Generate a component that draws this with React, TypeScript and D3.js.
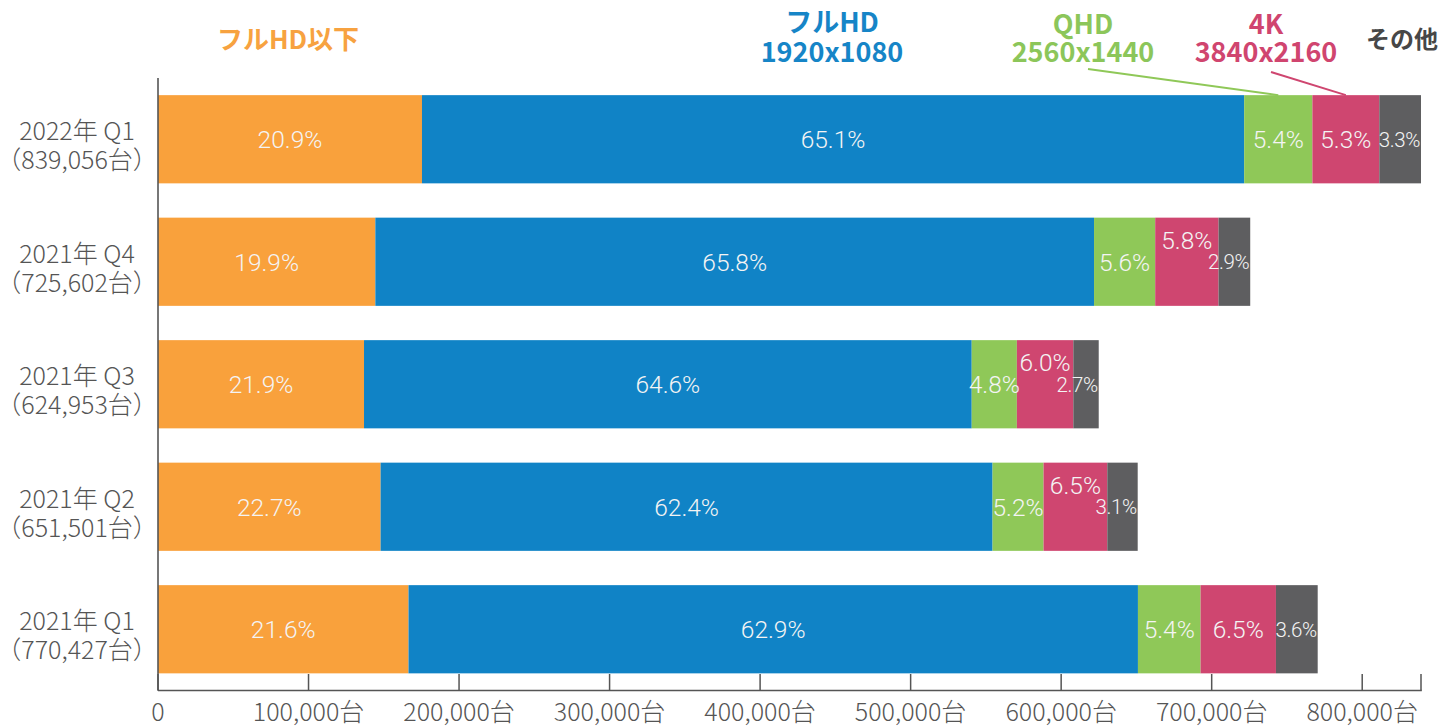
import React from 'react';
import * as d3 from 'd3';

// ---- data ----
const categories = ['2022年 Q1', '2021年 Q4', '2021年 Q3', '2021年 Q2', '2021年 Q1'];
const totals = [839056, 725602, 624953, 651501, 770427];
const seriesKeys = ['fhdBelow', 'fhd', 'qhd', 'uhd', 'other'];
const fhdBelowPct = [20.9, 19.9, 21.9, 22.7, 21.6];
const fhdPct = [65.1, 65.8, 64.6, 62.4, 62.9];
const qhdPct = [5.4, 5.6, 4.8, 5.2, 5.4];
const uhdPct = [5.3, 5.8, 6.0, 6.5, 6.5];
const otherPct = [3.3, 2.9, 2.7, 3.1, 3.6];
const xTicks = [0, 100000, 200000, 300000, 400000, 500000, 600000, 700000, 800000];

// ---- style / layout ----
const W = 1443;
const H = 726;
const colors = ['#F9A13C', '#1083C6', '#8FC858', '#CF4670', '#5E5E60'];
const headColors = ['#F7A240', '#1685C7', '#8CC65A', '#D0456F', '#474747'];
const pinkLift = [0, 22, 22, 22, 0];
const axisColor = '#555';
const textColor = '#555';
const jp = '"Noto Sans CJK JP", "Noto Sans", sans-serif';

const pctBySeries = [fhdBelowPct, fhdPct, qhdPct, uhdPct, otherPct];

export default function App() {
  const x = d3.scaleLinear().domain([0, d3.max(totals) as number]).range([158, 1421]);
  const y = d3
    .scaleBand<string>()
    .domain(categories)
    .range([78, 690.5])
    .paddingInner(0.28)
    .paddingOuter(0.14);

  const rows = categories.map((c, i) => {
    const r: any = { cat: c };
    seriesKeys.forEach((k, s) => {
      r[k] = (totals[i] * pctBySeries[s][i]) / 100;
    });
    return r;
  });
  const stacked = d3.stack<any>().keys(seriesKeys)(rows);
  const bw = y.bandwidth();
  const fmt = d3.format(',');

  const row0 = stacked.map((s) => s[0]);
  const qhdMid = x((row0[2][0] + row0[2][1]) / 2);
  const uhdMid = x((row0[3][0] + row0[3][1]) / 2);
  const barTop0 = y(categories[0]) as number;
  const xEnd = x(x.domain()[1]);

  return (
    <svg
      width={W}
      height={H}
      style={{ position: 'absolute', left: 0, top: 0, background: '#fff' }}
      xmlns="http://www.w3.org/2000/svg"
    >
      {/* bars */}
      {stacked.map((series, s) => (
        <g key={series.key} fill={colors[s]}>
          {series.map((d, i) => (
            <rect
              key={i}
              x={x(d[0])}
              y={y(categories[i])}
              width={x(d[1]) - x(d[0])}
              height={bw}
            />
          ))}
        </g>
      ))}

      {/* value labels */}
      {stacked.map((series, s) => (
        <g key={'l' + series.key} fill="#F4F4F4" fontFamily="Roboto, sans-serif" fontWeight={300}>
          {series.map((d, i) => {
            const cy = (y(categories[i]) as number) + bw / 2;
            const label = pctBySeries[s][i].toFixed(1) + '%';
            if (s === 4) {
              return (
                <text key={i} x={x(d[1]) - 1} y={cy + 7.5} textAnchor="end" fontSize={20.5} letterSpacing={-0.4}>
                  {label}
                </text>
              );
            }
            const lift = s === 3 ? pinkLift[i] : 0;
            return (
              <text
                key={i}
                x={(x(d[0]) + x(d[1])) / 2}
                y={cy + 9 - lift}
                textAnchor="middle"
                fontSize={24.5}
              >
                {label}
              </text>
            );
          })}
        </g>
      ))}

      {/* y axis line */}
      <line x1={158} x2={158} y1={78} y2={690.5} stroke={axisColor} strokeWidth={1.6} />
      {/* x axis */}
      <line x1={158} x2={xEnd + 0.8} y1={690.5} y2={690.5} stroke={axisColor} strokeWidth={1.6} />
      {xTicks.concat([x.domain()[1]]).map((t, i) => (
        <line key={'t' + i} x1={x(t)} x2={x(t)} y1={674} y2={690.5} stroke={axisColor} strokeWidth={1.5} />
      ))}
      {xTicks.map((t) => (
        <text
          key={'tl' + t}
          x={x(t)}
          y={721}
          textAnchor="middle"
          fontFamily={jp}
          fontWeight={300}
          fontSize={25}
          fill={textColor}
        >
          {t === 0 ? '0' : fmt(t) + '台'}
        </text>
      ))}

      {/* category labels */}
      {categories.map((c, i) => {
        const cy = (y(c) as number) + bw / 2;
        return (
          <text key={c} textAnchor="middle" fontFamily={jp} fontWeight={300} fontSize={25} fill={textColor}>
            <tspan x={77} y={cy + 1}>
              {c}
            </tspan>
            <tspan x={77} y={cy + 30}>
              {'（' + fmt(totals[i]) + '台）'}
            </tspan>
          </text>
        );
      })}

      {/* header legend */}
      <g fontFamily={jp} fontWeight={700} textAnchor="middle">
        <text x={288} y={49} fontSize={26} fill={headColors[0]}>
          フルHD以下
        </text>
        <text fontSize={27} fill={headColors[1]}>
          <tspan x={832} y={32}>フルHD</tspan>
          <tspan x={832} y={62}>1920x1080</tspan>
        </text>
        <text fontSize={27} fill={headColors[2]}>
          <tspan x={1083} y={34}>QHD</tspan>
          <tspan x={1083} y={62}>2560x1440</tspan>
        </text>
        <text fontSize={27} fill={headColors[3]}>
          <tspan x={1266} y={34}>4K</tspan>
          <tspan x={1266} y={62}>3840x2160</tspan>
        </text>
        <text x={1402} y={48} fontSize={24} fill={headColors[4]}>
          その他
        </text>
      </g>
      <line x1={1088} y1={69} x2={qhdMid} y2={barTop0} stroke={colors[2]} strokeWidth={2} />
      <line x1={1271} y1={72} x2={uhdMid} y2={barTop0} stroke={colors[3]} strokeWidth={2} />
    </svg>
  );
}
